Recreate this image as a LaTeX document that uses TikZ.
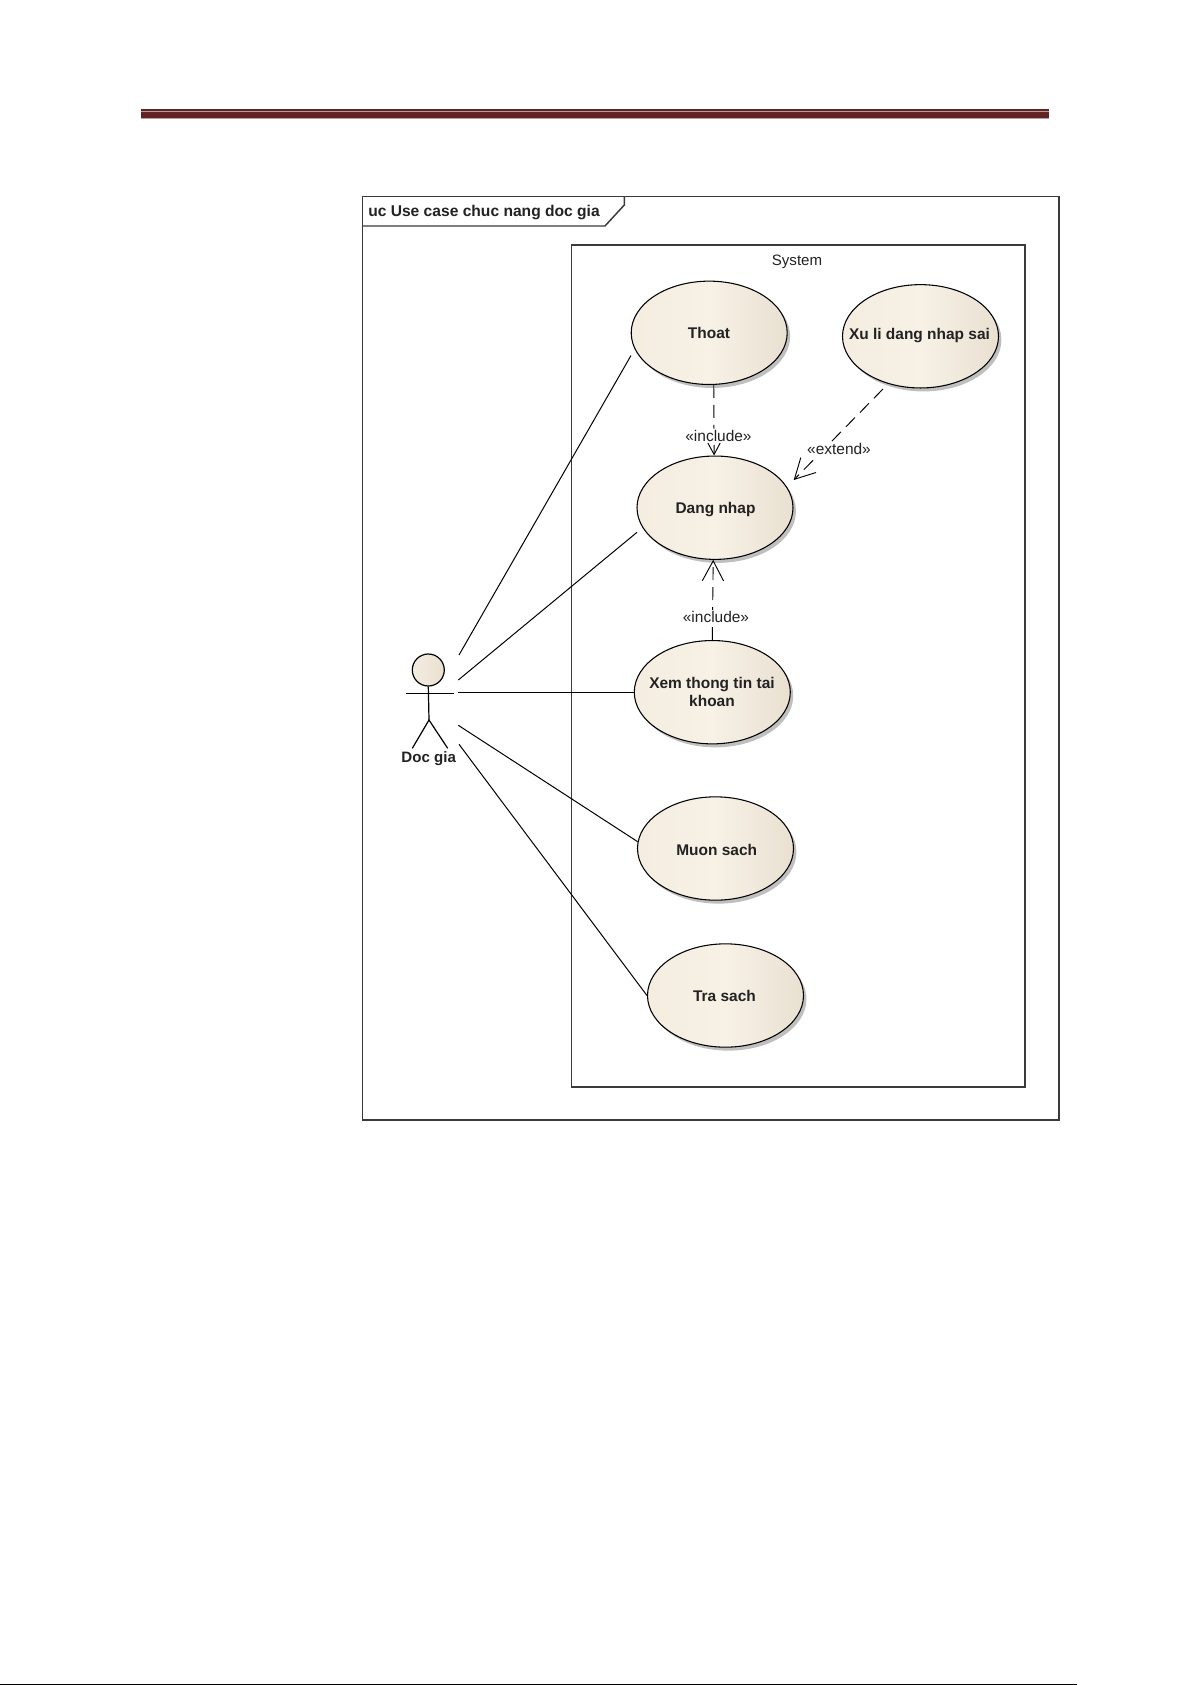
\documentclass[tikz,border=0pt]{standalone}
\usepackage{fontspec}
\setmainfont{Liberation Sans}
\usetikzlibrary{shapes.geometric,arrows.meta,shadows}
\definecolor{framegray}{HTML}{3A3A3A}
\definecolor{rulered}{HTML}{622423}
\definecolor{ucleft}{HTML}{F4EDE0}
\definecolor{ucmid}{HTML}{F7F1E6}
\definecolor{ucright}{HTML}{E9E0D1}
\definecolor{inktext}{HTML}{222222}
\tikzset{
  x=0.75pt,y=-0.75pt,
  frameline/.style={draw=framegray,line width=1.1pt},
  usecase/.style={ellipse,draw=black,line width=0.8pt,inner sep=0pt,
    minimum width=117pt,minimum height=77.5pt,
    left color=ucleft,right color=ucright,middle color=ucmid,
    drop shadow={shadow xshift=2.2pt,shadow yshift=-2.6pt,opacity=0.45,fill=black!55}},
  uctext/.style={font=\fontsize{11.6pt}{13.5pt}\selectfont\bfseries,text=inktext,align=center,inner sep=0pt},
  plaintext/.style={font=\fontsize{11.3pt}{13pt}\selectfont,text=inktext,inner sep=0pt},
  stereo/.style={font=\fontsize{11.6pt}{13pt}\selectfont,text=inktext,fill=white,inner sep=1pt},
  assoc/.style={draw=black,line width=0.75pt},
  dep/.style={draw=black,line width=0.7pt,dash pattern=on 9.75pt off 5.25pt,
    -{Straight Barb[length=15pt,width=16pt,line width=0.7pt]}},
  stick/.style={draw=black,line width=0.9pt},
}
\begin{document}
\begin{tikzpicture}
\useasboundingbox (0,0) rectangle (1192,1685);
\fill[white] (0,0) rectangle (1192,1685);

% page header rule
\fill[rulered!45!white] (141,108.6) rectangle (1049,111.7);
\fill[rulered] (141,109.4) rectangle (1049,111);
\fill[rulered!45!white] (141,111.8) rectangle (1049,119);
\fill[rulered] (141,112.4) rectangle (1049,118.2);
% bottom page edge
\fill[black] (0,1683.6) rectangle (1077,1685);

% diagram frame
\draw[frameline] (362.5,196.7) rectangle (1059,1120);
\draw[frameline] (362.5,226) -- (605,226) -- (624.3,205) -- (624.3,196.7);
\node[anchor=west,font=\fontsize{11.7pt}{13.5pt}\selectfont\bfseries,text=inktext,inner sep=0pt] (title) at (368,212) {uc Use case chuc nang doc gia};

% system boundary
\draw[frameline] (571.6,245) rectangle (1025,1087);
\node[plaintext] (system) at (797,262) {System};

% use cases
\node[usecase] (thoat) at (709.2,332.8) {};
\node[usecase] (xuli) at (920.5,336.3) {};
\node[usecase] (dang) at (715,507.7) {};
\node[usecase] (xem) at (712.3,692.2) {};
\node[usecase] (muon) at (715.5,848.5) {};
\node[usecase] (tra) at (725.5,995.5) {};
\node[uctext] (thoatT) at (709,333) {Thoat};
\node[uctext] (xuliT) at (919.5,336) {Xu li dang nhap sai};
\node[uctext] (dangT) at (715.5,509.5) {Dang nhap};
\node[uctext] (xemT) at (712,692) {Xem thong tin tai\\khoan};
\node[uctext] (muonT) at (716.7,849.5) {Muon sach};
\node[uctext] (traT) at (724.5,995.5) {Tra sach};

% actor
\node[circle,draw=black,line width=0.9pt,inner sep=0pt,minimum size=24pt,left color=ucleft,right color=ucright] (head) at (428.3,670) {};
\coordinate (hip) at (429,720);
\coordinate (armL) at (406,693.7);
\coordinate (armR) at (453.7,693.7);
\coordinate (footL) at (412.3,748.3);
\coordinate (footR) at (447.7,748.3);
\draw[stick] (head.south) -- (hip);
\draw[stick] (armL) -- (armR);
\draw[stick] (footL) -- (hip) -- (footR);
\node[uctext,font=\fontsize{11.3pt}{13pt}\selectfont\bfseries] (actor) at (428.7,759) {Doc gia};

% association free ends at the actor, and the two that stop short of their ellipse
\coordinate (a1) at (459,655);
\coordinate (a2) at (458.3,680);
\coordinate (a3) at (458.3,692.2);
\coordinate (a4) at (458.3,725.3);
\coordinate (a5) at (459,744.3);
\coordinate (thoatEnd) at (631,355.5);
\coordinate (dangEnd) at (637,532.3);
\draw[assoc] (a1) -- (thoatEnd);
\draw[assoc] (a2) -- (dangEnd);
\draw[assoc] (a3) -- (xem.west);
\draw[assoc] (a4) -- (muon.175.4);
\draw[assoc] (a5) -- (tra.west);

% dependencies
\coordinate (extStart) at (883,389);
\coordinate (extTip) at (793.7,480);
\draw[dep] (thoat.275) -- (dang.91);
\draw[dep] (xem.north) -- (dang.268);
\draw[dep] (extStart) -- (extTip);
\node[stereo] (inc1) at (718.5,436) {«include»};
\node[stereo] (inc2) at (716,616.7) {«include»};
\node[stereo] (ext) at (839,449.3) {«extend»};
\end{tikzpicture}
\end{document}
